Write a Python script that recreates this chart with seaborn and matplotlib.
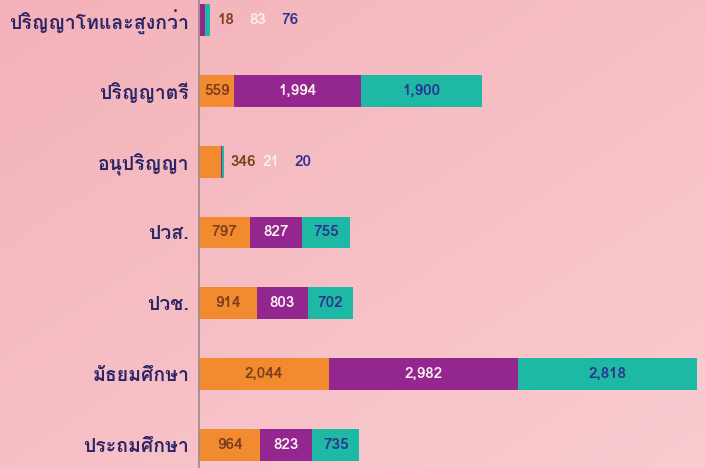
import numpy as np
import pandas as pd
import matplotlib
matplotlib.use("Agg")
import matplotlib.pyplot as plt
import seaborn as sns
from matplotlib import font_manager
from matplotlib.ft2font import FT2Font

# Education levels, top to bottom
levels = ["ปริญญาโทและสูงกว่า", "ปริญญาตรี", "อนุปริญญา", "ปวส.", "ปวช.",
          "มัธยมศึกษา", "ประถมศึกษา"]
# three series, stacked left to right
orange_vals = [18, 559, 346, 797, 914, 2044, 964]
purple_vals = [83, 1994, 21, 827, 803, 2982, 823]
teal_vals = [76, 1900, 20, 755, 702, 2818, 735]

orange = "#F28A30"
purple = "#93278F"
teal = "#1DB9A4"
navy = "#2B2466"
brown = "#7A3E1A"
label_blue = "#2E3192"

# find an installed font that can draw Thai
thai_font = None
for f in font_manager.fontManager.ttflist:
    try:
        if FT2Font(f.fname).get_char_index(0x0E1B):
            thai_font = f.name
            break
    except Exception:
        pass

sns.set_theme(style="white")
families = ([thai_font] if thai_font else []) + ["DejaVu Sans"]
plt.rcParams["font.family"] = families

df = pd.DataFrame({"level": levels, "orange": orange_vals,
                   "purple": purple_vals, "teal": teal_vals})
df["c1"] = df["orange"]
df["c2"] = df["orange"] + df["purple"]
df["c3"] = df["c2"] + df["teal"]

fig = plt.figure(figsize=(7.05, 4.68), dpi=100)

# pink background with a soft gradient
bg = fig.add_axes([0, 0, 1, 1], zorder=-1)
gx, gy = np.meshgrid(np.linspace(0, 1, 200), np.linspace(0, 1, 140))
g = 0.5 * gx + 0.5 * gy
c0 = np.array([0xF4, 0xB2, 0xBA]) / 255
c1 = np.array([0xF9, 0xCC, 0xD0]) / 255
img = c0 + g[..., None] * (c1 - c0)
bg.imshow(img, aspect="auto", extent=[0, 1, 0, 1], origin="upper")
bg.axis("off")

ax = fig.add_axes([199 / 705, 0, 506 / 705, 1])
ax.patch.set_alpha(0)

# draw cumulative totals from longest to shortest so the segments stack
for col, color in [("c3", teal), ("c2", purple), ("c1", orange)]:
    sns.barplot(data=df, y="level", x=col, order=levels, color=color,
                width=0.45, saturation=1, orient="h", ax=ax, linewidth=0)

total_max = df["c3"].max()
ax.set_xlim(0, total_max * 506 / 498)
ax.set_ylim(6.325, -0.282)

for s in ["top", "right", "bottom"]:
    ax.spines[s].set_visible(False)
ax.spines["left"].set_color("#9A8A8C")
ax.spines["left"].set_linewidth(1.2)
ax.set_xticks([])
ax.set_xlabel("")
ax.set_ylabel("")
ax.tick_params(axis="y", length=0, pad=7)
ax.set_yticks(range(len(levels)))
ax.set_yticklabels(levels, fontsize=14, fontweight="bold", color=navy)

num_font = dict(fontsize=11, fontweight="bold")
text_colors = [brown, "#FCEFF1", label_blue]
for i, row in df.iterrows():
    segs = [(0, row["orange"]), (row["c1"], row["purple"]), (row["c2"], row["teal"])]
    if row["c3"] < 600:
        # tiny bars: labels sit to the right of the bar
        for k, (start, val) in enumerate(segs):
            ax.annotate(f"{val:,}", xy=(row["c3"], i), xytext=(5 + 23 * k, 0),
                        textcoords="offset points", ha="left", va="center",
                        color=text_colors[k], **num_font)
    else:
        for k, (start, val) in enumerate(segs):
            ax.text(start + val / 2, i, f"{val:,}", ha="center", va="center",
                    color=text_colors[k], **num_font)

fig.savefig("out.png", dpi=100, facecolor="#F6BCC2")
